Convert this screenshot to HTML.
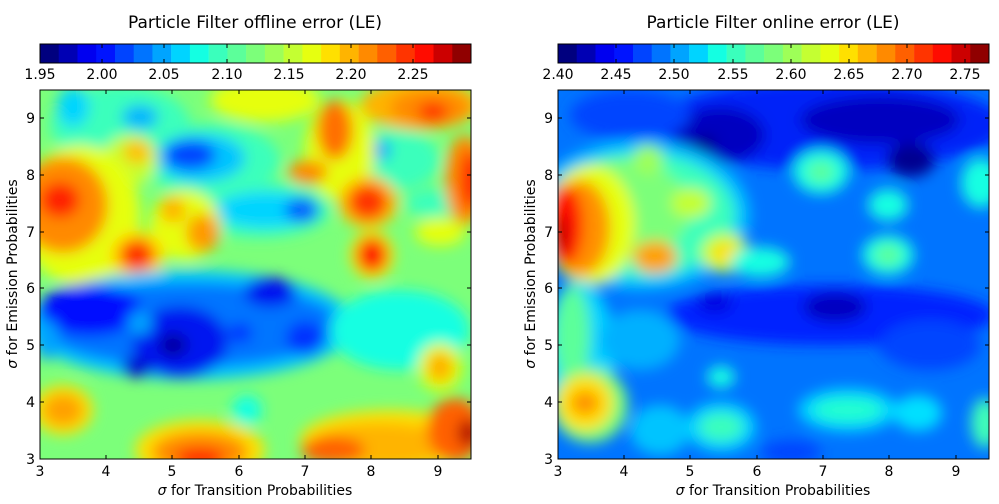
<!DOCTYPE html>
<html><head><meta charset="utf-8"><style>
body{margin:0;background:#fff;}
svg text{font-family:"DejaVu Sans","Liberation Sans",sans-serif;fill:#000;}
</style></head><body>
<svg width="999" height="499" viewBox="0 0 999 499" xmlns="http://www.w3.org/2000/svg">
<defs>
<filter id="b" x="-50%" y="-50%" width="200%" height="200%"><feGaussianBlur stdDeviation="7"/></filter>
<clipPath id="c1"><rect x="40" y="90" width="431" height="369"/></clipPath>
<clipPath id="c2"><rect x="558" y="90" width="431" height="369"/></clipPath>
</defs>
<text x="255" y="28" font-size="17" text-anchor="middle">Particle Filter offline error (LE)</text>
<text x="773" y="28" font-size="17" text-anchor="middle">Particle Filter online error (LE)</text>

<g id="cb1" stroke="none">
<rect x="40" y="44" width="19" height="19" fill="#00007f"/><rect x="58.7" y="44" width="19" height="19" fill="#0000b4"/><rect x="77.5" y="44" width="19" height="19" fill="#0000f0"/><rect x="96.2" y="44" width="19" height="19" fill="#0014ff"/><rect x="115" y="44" width="19" height="19" fill="#0044ff"/><rect x="133.7" y="44" width="19" height="19" fill="#0074ff"/><rect x="152.4" y="44" width="19" height="19" fill="#00a4ff"/><rect x="171.2" y="44" width="19" height="19" fill="#00d4ff"/><rect x="189.9" y="44" width="19" height="19" fill="#14ffe2"/><rect x="208.7" y="44" width="19" height="19" fill="#3affbc"/><rect x="227.4" y="44" width="19" height="19" fill="#5cff9a"/><rect x="246.1" y="44" width="19" height="19" fill="#7cff7a"/><rect x="264.9" y="44" width="19" height="19" fill="#9eff58"/><rect x="283.6" y="44" width="19" height="19" fill="#c4ff32"/><rect x="302.4" y="44" width="19" height="19" fill="#e6ff10"/><rect x="321.1" y="44" width="19" height="19" fill="#ffe000"/><rect x="339.8" y="44" width="19" height="19" fill="#ffb400"/><rect x="358.6" y="44" width="19" height="19" fill="#ff8a00"/><rect x="377.3" y="44" width="19" height="19" fill="#ff6000"/><rect x="396.1" y="44" width="19" height="19" fill="#ff3400"/><rect x="414.8" y="44" width="19" height="19" fill="#ff0c00"/><rect x="433.5" y="44" width="19" height="19" fill="#cc0000"/><rect x="452.3" y="44" width="18.7" height="19" fill="#900000"/>
</g>
<use href="#cb1" x="518"/>
<rect x="40" y="44" width="431" height="19" fill="none" stroke="#000"/>
<rect x="558" y="44" width="431" height="19" fill="none" stroke="#000"/>
<g stroke="#000">
<path d="M102 44v4M164 44v4M227 44v4M289 44v4M351 44v4M413 44v4M102 63v-4M164 63v-4M227 63v-4M289 63v-4M351 63v-4M413 63v-4"/>
<path d="M616 44v4M674 44v4M733 44v4M791 44v4M849 44v4M907 44v4M965 44v4M616 63v-4M674 63v-4M733 63v-4M791 63v-4M849 63v-4M907 63v-4M965 63v-4"/>
</g>
<g font-size="14" text-anchor="middle">
<text x="40" y="79">1.95</text><text x="102" y="79">2.00</text><text x="164" y="79">2.05</text><text x="227" y="79">2.10</text><text x="289" y="79">2.15</text><text x="351" y="79">2.20</text><text x="413" y="79">2.25</text>
<text x="558" y="79">2.40</text><text x="616" y="79">2.45</text><text x="674" y="79">2.50</text><text x="733" y="79">2.55</text><text x="791" y="79">2.60</text><text x="849" y="79">2.65</text><text x="907" y="79">2.70</text><text x="965" y="79">2.75</text>
</g>

<!-- left plot -->
<g clip-path="url(#c1)">
<rect x="30" y="80" width="451" height="389" fill="#7cff7a"/>
<g filter="url(#b)">
<ellipse cx="120" cy="125" rx="70" ry="40" fill="#3affbc"/>
<ellipse cx="73" cy="107" rx="16" ry="20" fill="#00d4ff"/>
<ellipse cx="140" cy="117" rx="18" ry="12" fill="#00b4ff"/>
<ellipse cx="265" cy="100" rx="55" ry="22" fill="#e6ff10"/>
<ellipse cx="210" cy="160" rx="70" ry="36" fill="#3affbc"/>
<ellipse cx="200" cy="158" rx="45" ry="24" fill="#00c4ff"/>
<ellipse cx="190" cy="155" rx="26" ry="15" fill="#0044ff"/>
<ellipse cx="130" cy="160" rx="28" ry="25" fill="#c4ff32"/>
<ellipse cx="137" cy="152" rx="14" ry="12" fill="#ffc000"/>
<ellipse cx="260" cy="210" rx="70" ry="28" fill="#3affbc"/>
<ellipse cx="265" cy="210" rx="50" ry="18" fill="#00d4ff"/>
<ellipse cx="302" cy="210" rx="17" ry="13" fill="#0060ff"/>
<ellipse cx="395" cy="160" rx="45" ry="30" fill="#3affbc"/>
<ellipse cx="380" cy="150" rx="11" ry="10" fill="#00a4ff"/>
<ellipse cx="433" cy="203" rx="28" ry="14" fill="#3affbc"/>
<ellipse cx="80" cy="215" rx="60" ry="70" fill="#e6ff10"/>
<ellipse cx="63" cy="205" rx="45" ry="48" fill="#ff8a00"/>
<ellipse cx="60" cy="200" rx="20" ry="18" fill="#ff2000"/>
<ellipse cx="185" cy="225" rx="35" ry="35" fill="#e6ff10"/>
<ellipse cx="173" cy="210" rx="13" ry="13" fill="#ffb400"/>
<ellipse cx="203" cy="233" rx="17" ry="19" fill="#ff9a00"/>
<ellipse cx="137" cy="255" rx="28" ry="24" fill="#ffe000"/>
<ellipse cx="137" cy="255" rx="18" ry="16" fill="#ff3000"/>
<ellipse cx="340" cy="150" rx="35" ry="50" fill="#e6ff10"/>
<ellipse cx="335" cy="130" rx="18" ry="30" fill="#ff7000"/>
<ellipse cx="308" cy="172" rx="20" ry="12" fill="#ff8a00"/>
<ellipse cx="368" cy="202" rx="30" ry="26" fill="#ffc000"/>
<ellipse cx="368" cy="202" rx="20" ry="18" fill="#ff3400"/>
<ellipse cx="372" cy="255" rx="22" ry="24" fill="#ffe000"/>
<ellipse cx="372" cy="255" rx="15" ry="17" fill="#ff1000"/>
<ellipse cx="420" cy="105" rx="60" ry="25" fill="#ffb400"/>
<ellipse cx="430" cy="108" rx="40" ry="18" fill="#ff8a00"/>
<ellipse cx="433" cy="112" rx="15" ry="10" fill="#ff3000"/>
<ellipse cx="465" cy="180" rx="20" ry="45" fill="#ff8a00"/>
<ellipse cx="470" cy="180" rx="10" ry="30" fill="#ff2000"/>
<ellipse cx="440" cy="232" rx="25" ry="14" fill="#e6ff10"/>
<ellipse cx="190" cy="325" rx="165" ry="55" fill="#00c4ff"/>
<ellipse cx="190" cy="325" rx="150" ry="42" fill="#0074ff"/>
<ellipse cx="400" cy="330" rx="70" ry="40" fill="#14ffe2"/>
<ellipse cx="90" cy="310" rx="52" ry="26" fill="#0010ff"/>
<ellipse cx="180" cy="342" rx="48" ry="36" fill="#0018f0"/>
<ellipse cx="173" cy="345" rx="14" ry="12" fill="#0000a0"/>
<ellipse cx="137" cy="367" rx="15" ry="11" fill="#0000d0"/>
<ellipse cx="270" cy="292" rx="26" ry="15" fill="#0010f0"/>
<ellipse cx="305" cy="338" rx="19" ry="17" fill="#0030ff"/>
<ellipse cx="240" cy="333" rx="12" ry="10" fill="#0030ff"/>
<ellipse cx="140" cy="323" rx="12" ry="12" fill="#00a4ff"/>
<ellipse cx="47" cy="340" rx="12" ry="20" fill="#00a4ff"/>
<ellipse cx="200" cy="450" rx="65" ry="30" fill="#ffe000"/>
<ellipse cx="200" cy="452" rx="48" ry="20" fill="#ff8a00"/>
<ellipse cx="200" cy="458" rx="25" ry="10" fill="#ff2000"/>
<ellipse cx="63" cy="410" rx="30" ry="25" fill="#ffe000"/>
<ellipse cx="63" cy="410" rx="20" ry="16" fill="#ffa000"/>
<ellipse cx="390" cy="440" rx="90" ry="30" fill="#ffe000"/>
<ellipse cx="380" cy="445" rx="70" ry="22" fill="#ffb400"/>
<ellipse cx="333" cy="450" rx="32" ry="14" fill="#ff6000"/>
<ellipse cx="455" cy="430" rx="28" ry="32" fill="#ff6000"/>
<ellipse cx="468" cy="433" rx="10" ry="14" fill="#b00000"/>
<ellipse cx="440" cy="367" rx="22" ry="24" fill="#e6ff10"/>
<ellipse cx="440" cy="367" rx="13" ry="15" fill="#ffb000"/>
<ellipse cx="247" cy="410" rx="15" ry="15" fill="#14ffe2"/>
</g>
</g>

<!-- right plot -->
<g clip-path="url(#c2)">
<rect x="548" y="80" width="451" height="389" fill="#0074ff"/>
<g filter="url(#b)">
<ellipse cx="830" cy="125" rx="175" ry="45" fill="#0020f8"/>
<ellipse cx="720" cy="135" rx="45" ry="28" fill="#0000c0"/>
<ellipse cx="880" cy="120" rx="80" ry="24" fill="#0000c0"/>
<ellipse cx="911" cy="160" rx="24" ry="17" fill="#000090"/>
<ellipse cx="705" cy="143" rx="12" ry="8" fill="#000090"/>
<ellipse cx="630" cy="115" rx="60" ry="25" fill="#0044ff"/>
<ellipse cx="640" cy="215" rx="110" ry="75" fill="#00c4ff"/>
<ellipse cx="640" cy="215" rx="95" ry="62" fill="#3affbc"/>
<ellipse cx="620" cy="210" rx="70" ry="50" fill="#7cff7a"/>
<ellipse cx="691" cy="203" rx="20" ry="15" fill="#c4ff32"/>
<ellipse cx="648" cy="160" rx="15" ry="15" fill="#9eff58"/>
<ellipse cx="590" cy="225" rx="45" ry="60" fill="#e6ff10"/>
<ellipse cx="580" cy="228" rx="30" ry="48" fill="#ff9000"/>
<ellipse cx="565" cy="225" rx="18" ry="40" fill="#ff1000"/>
<ellipse cx="560" cy="235" rx="6" ry="20" fill="#b00000"/>
<ellipse cx="655" cy="257" rx="22" ry="16" fill="#ffa000"/>
<ellipse cx="725" cy="253" rx="24" ry="20" fill="#c4ff32"/>
<ellipse cx="725" cy="253" rx="14" ry="11" fill="#ffe000"/>
<ellipse cx="760" cy="262" rx="30" ry="15" fill="#14ffe2"/>
<ellipse cx="821" cy="172" rx="28" ry="22" fill="#14ffe2"/>
<ellipse cx="821" cy="172" rx="14" ry="11" fill="#5cff9a"/>
<ellipse cx="888" cy="205" rx="20" ry="16" fill="#14ffe2"/>
<ellipse cx="888" cy="255" rx="26" ry="20" fill="#14ffe2"/>
<ellipse cx="888" cy="255" rx="14" ry="11" fill="#5cff9a"/>
<ellipse cx="981" cy="183" rx="20" ry="25" fill="#14ffe2"/>
<ellipse cx="830" cy="315" rx="165" ry="30" fill="#0020ff"/>
<ellipse cx="835" cy="307" rx="32" ry="15" fill="#0000c0"/>
<ellipse cx="715" cy="303" rx="18" ry="10" fill="#0000e0"/>
<ellipse cx="891" cy="347" rx="12" ry="10" fill="#0010ff"/>
<ellipse cx="930" cy="345" rx="50" ry="25" fill="#0044ff"/>
<ellipse cx="580" cy="360" rx="35" ry="80" fill="#00d4ff"/>
<ellipse cx="572" cy="335" rx="18" ry="50" fill="#5cff9a"/>
<ellipse cx="640" cy="340" rx="40" ry="30" fill="#00b0ff"/>
<ellipse cx="590" cy="405" rx="38" ry="38" fill="#7cff7a"/>
<ellipse cx="585" cy="403" rx="28" ry="28" fill="#ffe000"/>
<ellipse cx="585" cy="403" rx="14" ry="12" fill="#ff9000"/>
<ellipse cx="721" cy="427" rx="35" ry="25" fill="#00d4ff"/>
<ellipse cx="721" cy="427" rx="22" ry="14" fill="#3affbc"/>
<ellipse cx="721" cy="377" rx="14" ry="11" fill="#14ffe2"/>
<ellipse cx="848" cy="410" rx="50" ry="22" fill="#00d4ff"/>
<ellipse cx="848" cy="410" rx="35" ry="12" fill="#20ffd0"/>
<ellipse cx="918" cy="413" rx="24" ry="18" fill="#00e0ff"/>
<ellipse cx="985" cy="423" rx="14" ry="25" fill="#40ffb8"/>
<ellipse cx="791" cy="452" rx="30" ry="12" fill="#0044ff"/>
<ellipse cx="660" cy="430" rx="30" ry="25" fill="#00c4ff"/>
</g>
</g>

<rect x="40" y="90" width="431" height="369" fill="none" stroke="#000"/>
<rect x="558" y="90" width="431" height="369" fill="none" stroke="#000"/>
<g stroke="#000">
<path d="M106 459v-4M172 459v-4M239 459v-4M305 459v-4M371 459v-4M438 459v-4M106 90v4M172 90v4M239 90v4M305 90v4M371 90v4M438 90v4"/>
<path d="M40 402h4M40 345h4M40 288h4M40 232h4M40 175h4M40 118h4M471 402h-4M471 345h-4M471 288h-4M471 232h-4M471 175h-4M471 118h-4"/>
<path d="M624 459v-4M690 459v-4M757 459v-4M823 459v-4M889 459v-4M956 459v-4M624 90v4M690 90v4M757 90v4M823 90v4M889 90v4M956 90v4"/>
<path d="M558 402h4M558 345h4M558 288h4M558 232h4M558 175h4M558 118h4M989 402h-4M989 345h-4M989 288h-4M989 232h-4M989 175h-4M989 118h-4"/>
</g>
<g font-size="14" text-anchor="middle">
<text x="40" y="476">3</text><text x="106" y="476">4</text><text x="172" y="476">5</text><text x="239" y="476">6</text><text x="305" y="476">7</text><text x="371" y="476">8</text><text x="438" y="476">9</text>
<text x="558" y="476">3</text><text x="624" y="476">4</text><text x="690" y="476">5</text><text x="757" y="476">6</text><text x="823" y="476">7</text><text x="889" y="476">8</text><text x="956" y="476">9</text>
</g>
<g font-size="14" text-anchor="end">
<text x="35" y="464">3</text><text x="35" y="407">4</text><text x="35" y="350">5</text><text x="35" y="293">6</text><text x="35" y="237">7</text><text x="35" y="180">8</text><text x="35" y="123">9</text>
<text x="553" y="464">3</text><text x="553" y="407">4</text><text x="553" y="350">5</text><text x="553" y="293">6</text><text x="553" y="237">7</text><text x="553" y="180">8</text><text x="553" y="123">9</text>
</g>
<g font-size="14" text-anchor="middle">
<text x="255" y="495"><tspan font-style="italic">σ</tspan> for Transition Probabilities</text>
<text x="773" y="495"><tspan font-style="italic">σ</tspan> for Transition Probabilities</text>
<text transform="translate(17,274) rotate(-90)"><tspan font-style="italic">σ</tspan> for Emission Probabilities</text>
<text transform="translate(535,274) rotate(-90)"><tspan font-style="italic">σ</tspan> for Emission Probabilities</text>
</g>
</svg>
</body></html>
